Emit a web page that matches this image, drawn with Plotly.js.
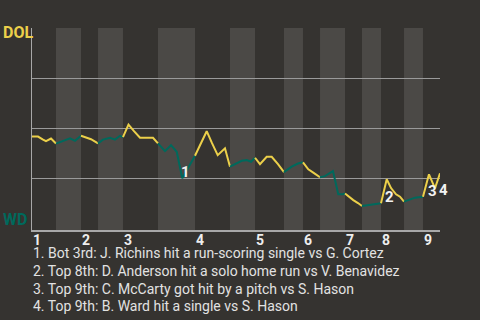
<!DOCTYPE html>
<html>
<head>
<meta charset="utf-8">
<script src="https://cdn.plot.ly/plotly-3.0.1.min.js"></script>
<style>html,body{margin:0;padding:0;background:#353330;}#chart{width:480px;height:320px;}</style>
</head>
<body>
<div id="chart"></div>
<script>
// Game progress (0-100) and DOL win probability
const progress = [0,1.47,2.70,3.43,4.66,5.88,
  7.35,8.33,9.31,10.54,12.01,
  13.24,14.46,16.18,
  17.40,19.12,20.34,21.57,22.30,
  23.65,25.0,26.47,29.66,30.88,
  32.60,34.07,35.47,36.84,37.92,39.95,
  42.82,44.12,45.52,47.30,48.53,
  50.0,51.40,52.62,53.68,54.66,
  55.88,57.52,58.75,60.29,61.76,
  63.65,65.20,66.42,
  67.72,69.12,70.59,
  71.81,73.77,75.07,76.23,76.72,
  77.70,78.75,79.90,80.88,
  82.35,84.07,85.54,
  86.94,88.0,89.22,90.20,91.18,
  92.65,93.87,95.83,
  97.30,98.77,100];
const winProb = [0.458,0.458,0.443,0.435,0.448,0.423,
  0.435,0.443,0.449,0.437,0.462,
  0.455,0.445,0.424,
  0.443,0.452,0.443,0.462,0.455,
  0.518,0.485,0.452,0.452,0.424,
  0.385,0.415,0.382,0.249,0.290,0.362,
  0.485,0.425,0.365,0.399,0.307,
  0.323,0.337,0.340,0.332,0.352,
  0.320,0.357,0.357,0.320,0.280,
  0.307,0.323,0.329,
  0.294,0.275,0.254,
  0.260,0.285,0.169,0.169,0.173,
  0.155,0.140,0.125,0.110,
  0.115,0.120,0.124,
  0.244,0.200,0.169,0.157,0.132,
  0.143,0.152,0.157,
  0.269,0.199,0.274];
// half-inning boundaries (top 1st, bot 1st, ... top 9th, end)
const halfBounds = [0,5.88,12.01,16.18,22.30,30.88,39.95,48.53,54.66,61.76,66.42,70.59,76.72,80.88,85.54,91.18,95.83,100];
const inningLabels = ['1','2','3','4','5','6','7','8','9'];
const eventMarks = ['1','2','3','4'];
const eventProgress = [36.84,86.94,97.30,100];
const eventTexts = [
  '1. Bot 3rd: J. Richins hit a run-scoring single vs G. Cortez',
  '2. Top 8th: D. Anderson hit a solo home run vs V. Benavidez',
  '3. Top 9th: C. McCarty got hit by a pitch vs S. Hason',
  '4. Top 9th: B. Ward hit a single vs S. Hason'
];
const teamTop = 'DOL', teamBottom = 'WD';

const YEL = '#ecd04a', TEAL = '#00695c', BG = '#353330';
const FONT = 'Roboto, sans-serif';

const traces = [];
for (let h = 0; h < halfBounds.length - 1; h++) {
  const a = halfBounds[h], b = halfBounds[h+1];
  const xs = [], ys = [];
  progress.forEach((p, i) => { if (p >= a - 1e-6 && p <= b + 1e-6) { xs.push(p); ys.push(winProb[i]); } });
  traces.push({x: xs, y: ys, mode: 'lines', type: 'scatter', hoverinfo: 'none',
    line: {color: h % 2 === 0 ? YEL : TEAL, width: 2}, showlegend: false});
}

const shapes = [];
for (let h = 1; h < halfBounds.length - 1; h += 2) {
  shapes.push({type: 'rect', xref: 'x', yref: 'paper', x0: halfBounds[h], x1: halfBounds[h+1], y0: 0, y1: 1,
    fillcolor: 'rgba(255,255,255,0.11)', line: {width: 0}, layer: 'below'});
}

const annotations = [];
inningLabels.forEach((t, i) => {
  annotations.push({text: t, xref: 'x', yref: 'paper', x: halfBounds[2*i], y: 0, xanchor: 'left', yanchor: 'top',
    showarrow: false, xshift: -1, yshift: 0, font: {family: FONT, size: 14, color: '#eeeeee', weight: 'bold'}});
});
const evShift = [[3, 6], [3, -18], [4, -17], [3, -17]];
eventMarks.forEach((t, i) => {
  const idx = progress.findIndex(p => Math.abs(p - eventProgress[i]) < 1e-6);
  annotations.push({text: t, xref: 'x', yref: 'y', x: progress[idx], y: winProb[idx], showarrow: false,
    xshift: evShift[i][0], yshift: evShift[i][1], font: {family: FONT, size: 15, color: '#f2f2f2', weight: 'bold'}});
});
eventTexts.forEach((t, i) => {
  annotations.push({text: t, xref: 'paper', yref: 'paper', x: 0, y: 0, xanchor: 'left', yanchor: 'top',
    showarrow: false, xshift: -1, yshift: -13 - i * 17.8, font: {family: FONT, size: 14, color: '#e2e2e2'}});
});
annotations.push({text: teamTop, xref: 'paper', yref: 'paper', x: 0, y: 1, xanchor: 'left', yanchor: 'middle',
  showarrow: false, xshift: -31, yshift: -4, font: {family: FONT, size: 16, color: YEL, weight: 'bold'}});
annotations.push({text: teamBottom, xref: 'paper', yref: 'paper', x: 0, y: 0, xanchor: 'left', yanchor: 'middle',
  showarrow: false, xshift: -31, yshift: 11, font: {family: FONT, size: 16, color: TEAL, weight: 'bold'}});

const layout = {
  width: 480, height: 320,
  margin: {l: 32, r: 40, t: 28, b: 90},
  paper_bgcolor: BG, plot_bgcolor: BG,
  font: {family: FONT},
  xaxis: {range: [0, 100], showgrid: false, zeroline: false, showticklabels: false, ticks: '',
    showline: true, linecolor: '#a8a8a8', linewidth: 1.5, fixedrange: true},
  yaxis: {range: [-0.01, 1.002], tickvals: [0.25, 0.5, 0.75, 1], showticklabels: false, ticks: '',
    showgrid: true, gridcolor: '#9a9a9a', gridwidth: 1.2, zeroline: false,
    showline: true, linecolor: '#a8a8a8', linewidth: 1.5, fixedrange: true},
  shapes: shapes, annotations: annotations, showlegend: false
};
Plotly.newPlot('chart', traces, layout, {displayModeBar: false, staticPlot: true});
</script>
</body>
</html>
